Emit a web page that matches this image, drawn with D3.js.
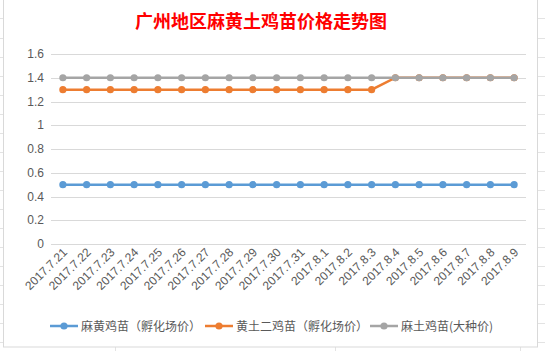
<!DOCTYPE html>
<html>
<head>
<script src="https://d3js.org/d3.v7.min.js"></script>
<style>
    body{ margin:0; background:#fff; font-family:"Noto Sans CJK SC","Noto Sans",sans-serif; }
</style>
</head>
<body>
<div id="chart"></div>
<script>
    var dates = ["2017.7.21","2017.7.22","2017.7.23","2017.7.24","2017.7.25","2017.7.26","2017.7.27","2017.7.28","2017.7.29","2017.7.30","2017.7.31","2017.8.1","2017.8.2","2017.8.3","2017.8.4","2017.8.5","2017.8.6","2017.8.7","2017.8.8","2017.8.9"]
    var mahuang = [0.5,0.5,0.5,0.5,0.5,0.5,0.5,0.5,0.5,0.5,0.5,0.5,0.5,0.5,0.5,0.5,0.5,0.5,0.5,0.5]
    var huangtu = [1.3,1.3,1.3,1.3,1.3,1.3,1.3,1.3,1.3,1.3,1.3,1.3,1.3,1.3,1.4,1.4,1.4,1.4,1.4,1.4]
    var matu = [1.4,1.4,1.4,1.4,1.4,1.4,1.4,1.4,1.4,1.4,1.4,1.4,1.4,1.4,1.4,1.4,1.4,1.4,1.4,1.4]
    var seriesNames = ["麻黄鸡苗（孵化场价）","黄土二鸡苗（孵化场价）","麻土鸡苗(大种价)"]
    var yTicks = [0,0.2,0.4,0.6,0.8,1,1.2,1.4,1.6]

    var series = [
        {name:seriesNames[0], values:mahuang, color:"#5B9BD5"},
        {name:seriesNames[1], values:huangtu, color:"#ED7D31"},
        {name:seriesNames[2], values:matu, color:"#A5A5A5"}
    ]

    var W = 545, H = 351
    var svg = d3.select("#chart").append("svg").attr("width",W).attr("height",H)

    // spreadsheet cells behind the chart
    var bg = svg.append("g").attr("stroke","#e3e3e3").attr("stroke-width",1)
    ;[18,38,57,76,95,114,133,152,171,190,209,228,247,266,285,304,323,342].forEach(function(y){
        bg.append("line").attr("x1",0).attr("x2",3).attr("y1",y+0.5).attr("y2",y+0.5)
        bg.append("line").attr("x1",538).attr("x2",545).attr("y1",y+0.5).attr("y2",y+0.5)
    })
    ;[115,335,520].forEach(function(x){
        bg.append("line").attr("x1",x+0.5).attr("x2",x+0.5).attr("y1",347).attr("y2",351)
    })
    bg.append("line").attr("x1",523.5).attr("x2",523.5).attr("y1",0).attr("y2",4)
    svg.append("rect").attr("x",3.5).attr("y",-1).attr("width",534).attr("height",348)
        .attr("fill","#fff").attr("stroke","#d9d9d9")

    svg.append("text").attr("x",261).attr("y",28).attr("text-anchor","middle")
        .attr("fill","#FF0000").attr("font-size",18).attr("font-weight","bold")
        .text("广州地区麻黄土鸡苗价格走势图")

    var x = d3.scaleBand().domain(dates).range([51,526])
    var y = d3.scaleLinear().domain([0,1.6]).range([244,54])

    svg.append("g").selectAll("line").data(yTicks).enter().append("line")
        .attr("x1",51).attr("x2",526)
        .attr("y1",function(d){return Math.round(y(d))+0.5})
        .attr("y2",function(d){return Math.round(y(d))+0.5})
        .attr("stroke","#d9d9d9")

    svg.append("g").selectAll("text").data(yTicks).enter().append("text")
        .attr("x",44).attr("y",function(d){return y(d)+4})
        .attr("text-anchor","end").attr("font-size",12).attr("fill","#595959")
        .attr("font-family","Liberation Sans, sans-serif")
        .text(function(d){return d})

    svg.append("g").selectAll("text").data(dates).enter().append("text")
        .attr("transform",function(d){
            return "translate("+(x(d)+x.bandwidth()/2+5)+",253) rotate(-45)"})
        .attr("text-anchor","end").attr("font-size",12).attr("fill","#595959")
        .attr("font-family","Liberation Sans, sans-serif")
        .text(function(d){return d})

    var line = d3.line()
        .x(function(d,i){return x(dates[i])+x.bandwidth()/2})
        .y(function(d){return y(d)})

    series.forEach(function(s){
        var g = svg.append("g")
        g.append("path").datum(s.values).attr("d",line)
            .attr("fill","none").attr("stroke",s.color).attr("stroke-width",2.5)
        g.selectAll("circle").data(s.values).enter().append("circle")
            .attr("cx",function(d,i){return x(dates[i])+x.bandwidth()/2})
            .attr("cy",function(d){return y(d)})
            .attr("r",3.6).attr("fill",s.color)
    })

    var legendX = [50,205,370]
    var leg = svg.append("g")
    series.forEach(function(s,i){
        var lx = legendX[i], ly = 326
        leg.append("line").attr("x1",lx).attr("x2",lx+28).attr("y1",ly).attr("y2",ly)
            .attr("stroke",s.color).attr("stroke-width",2.5)
        leg.append("circle").attr("cx",lx+14).attr("cy",ly).attr("r",3.6).attr("fill",s.color)
        leg.append("text").attr("x",lx+31).attr("y",ly+4.5).attr("font-size",12)
            .attr("fill","#595959").text(s.name)
    })
</script>
</body>
</html>
